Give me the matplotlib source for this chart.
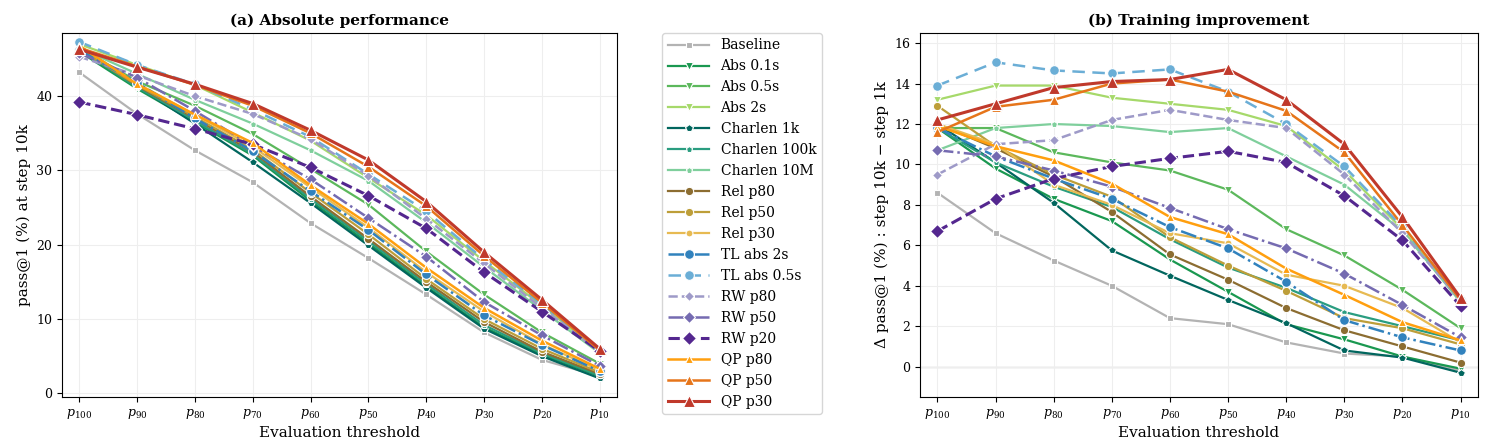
import matplotlib
matplotlib.use("Agg")
import matplotlib.pyplot as plt

plt.rcParams['font.family'] = ['DejaVu Serif']
plt.rcParams['mathtext.fontset'] = 'dejavuserif'

thresholds = [100, 90, 80, 70, 60, 50, 40, 30, 20, 10]
tick_labels = [f"$p_{{{t}}}$" for t in thresholds]

names = ["Baseline", "Abs 0.1s", "Abs 0.5s", "Abs 2s", "Charlen 1k", "Charlen 100k",
         "Charlen 10M", "Rel p80", "Rel p50", "Rel p30", "TL abs 2s", "TL abs 0.5s",
         "RW p80", "RW p50", "RW p20", "QP p80", "QP p50", "QP p30"]

abs_perf = {
    "Baseline":     [43.2, 37.6, 32.7, 28.4, 22.9, 18.2, 13.3, 8.2, 4.5, 2.3],
    "Abs 0.1s":     [46.0, 41.0, 36.5, 32.0, 25.9, 20.2, 14.4, 8.9, 5.2, 2.3],
    "Abs 0.5s":     [46.5, 42.0, 38.7, 34.9, 30.2, 25.4, 19.1, 13.3, 8.2, 4.0],
    "Abs 2s":       [47.0, 44.2, 41.5, 37.8, 34.0, 29.0, 24.0, 17.8, 11.8, 5.6],
    "Charlen 1k":   [46.4, 41.3, 36.3, 31.1, 25.6, 19.9, 14.2, 8.7, 5.0, 2.0],
    "Charlen 100k": [46.3, 41.2, 36.7, 32.2, 26.2, 20.5, 14.7, 9.2, 5.4, 2.4],
    "Charlen 10M":  [46.5, 43.0, 39.5, 36.3, 32.7, 28.6, 23.0, 17.0, 11.2, 5.4],
    "Rel p80":      [46.4, 41.4, 37.0, 32.5, 26.5, 20.8, 15.0, 9.6, 5.6, 2.6],
    "Rel p50":      [46.3, 41.5, 37.2, 32.8, 27.0, 21.4, 15.4, 10.0, 6.0, 2.8],
    "Rel p30":      [46.7, 41.7, 37.5, 33.2, 27.7, 22.3, 16.3, 11.0, 6.6, 3.1],
    "TL abs 2s":    [46.2, 41.8, 37.0, 32.6, 27.2, 22.0, 16.0, 10.5, 6.5, 3.0],
    "TL abs 0.5s":  [47.3, 44.2, 41.6, 38.2, 34.5, 29.5, 24.5, 18.0, 12.0, 5.8],
    "RW p80":       [45.3, 42.8, 40.0, 37.6, 34.2, 29.3, 23.5, 17.5, 11.5, 5.6],
    "RW p50":       [45.8, 42.5, 38.0, 33.3, 28.8, 23.6, 18.4, 12.3, 7.8, 3.7],
    "RW p20":       [39.2, 37.5, 35.6, 33.5, 30.4, 26.6, 22.2, 16.3, 11.0, 5.7],
    "QP p80":       [46.8, 41.6, 37.5, 33.7, 28.0, 22.8, 16.9, 11.5, 7.1, 3.3],
    "QP p50":       [46.5, 44.0, 41.5, 38.7, 35.0, 30.5, 25.2, 18.5, 12.2, 5.8],
    "QP p30":       [46.3, 43.9, 41.6, 39.0, 35.4, 31.4, 25.8, 19.0, 12.6, 6.0],
}

improvement = {
    "Baseline":     [8.6, 6.6, 5.25, 4.0, 2.4, 2.1, 1.2, 0.65, 0.5, -0.2],
    "Abs 0.1s":     [11.8, 9.8, 8.3, 7.2, 5.3, 3.7, 2.1, 1.35, 0.5, -0.1],
    "Abs 0.5s":     [11.8, 11.8, 10.6, 10.1, 9.7, 8.75, 6.8, 5.5, 3.8, 1.9],
    "Abs 2s":       [13.2, 13.9, 13.9, 13.3, 13.0, 12.7, 11.9, 9.7, 6.8, 3.2],
    "Charlen 1k":   [12.0, 10.1, 8.1, 5.75, 4.5, 3.3, 2.15, 0.8, 0.45, -0.3],
    "Charlen 100k": [11.8, 10.1, 8.9, 7.9, 6.3, 4.9, 3.9, 2.7, 2.0, 1.3],
    "Charlen 10M":  [10.7, 11.8, 12.0, 11.9, 11.6, 11.8, 10.4, 9.0, 6.7, 3.2],
    "Rel p80":      [12.0, 10.8, 9.4, 7.65, 5.55, 4.3, 2.9, 1.8, 1.0, 0.2],
    "Rel p50":      [12.9, 10.9, 9.5, 8.4, 6.4, 5.0, 3.75, 2.4, 1.9, 1.1],
    "Rel p30":      [12.0, 11.0, 9.0, 8.0, 6.6, 6.1, 4.55, 4.0, 2.9, 1.2],
    "TL abs 2s":    [11.8, 10.4, 9.3, 8.3, 6.9, 5.85, 4.2, 2.3, 1.45, 0.8],
    "TL abs 0.5s":  [13.9, 15.05, 14.65, 14.5, 14.7, 13.6, 12.0, 9.9, 6.9, 3.3],
    "RW p80":       [9.5, 11.0, 11.2, 12.2, 12.7, 12.2, 11.8, 9.5, 6.6, 3.3],
    "RW p50":       [10.7, 10.4, 9.7, 8.9, 7.85, 6.8, 5.85, 4.6, 3.05, 1.45],
    "RW p20":       [6.7, 8.3, 9.3, 9.9, 10.3, 10.65, 10.1, 8.45, 6.25, 3.0],
    "QP p80":       [11.9, 10.9, 10.2, 9.05, 7.4, 6.55, 4.85, 3.55, 2.2, 1.3],
    "QP p50":       [11.6, 12.85, 13.2, 14.0, 14.2, 13.6, 12.65, 10.6, 7.0, 3.3],
    "QP p30":       [12.2, 13.0, 13.8, 14.1, 14.2, 14.7, 13.2, 11.0, 7.4, 3.4],
}

styles = {
    "Baseline":     dict(color="#b3b3b3", marker="s", ls="-", ms=5, lw=1.6),
    "Abs 0.1s":     dict(color="#1a9850", marker="v", ls="-", ms=6, lw=1.6),
    "Abs 0.5s":     dict(color="#5cb85c", marker="v", ls="-", ms=6, lw=1.6),
    "Abs 2s":       dict(color="#a6d96a", marker="v", ls="-", ms=6, lw=1.6),
    "Charlen 1k":   dict(color="#01665e", marker="p", ls="-", ms=6, lw=1.6),
    "Charlen 100k": dict(color="#2a9d80", marker="p", ls="-", ms=5, lw=1.6),
    "Charlen 10M":  dict(color="#7fcf9c", marker="p", ls="-", ms=5, lw=1.6),
    "Rel p80":      dict(color="#8c6d31", marker="o", ls="-", ms=6, lw=1.6),
    "Rel p50":      dict(color="#bd9e39", marker="o", ls="-", ms=6, lw=1.6),
    "Rel p30":      dict(color="#e7ba52", marker="o", ls="-", ms=5, lw=1.6),
    "TL abs 2s":    dict(color="#3182bd", marker="o", ls="-.", ms=7, lw=1.8),
    "TL abs 0.5s":  dict(color="#6baed6", marker="o", ls=(0, (5, 3)), ms=7, lw=1.8),
    "RW p80":       dict(color="#9e9ac8", marker="D", ls="--", ms=5, lw=1.8),
    "RW p50":       dict(color="#756bb1", marker="D", ls="-.", ms=6, lw=1.8),
    "RW p20":       dict(color="#54278f", marker="D", ls="--", ms=7, lw=2.2),
    "QP p80":       dict(color="#ff9f0f", marker="^", ls="-", ms=6, lw=1.8),
    "QP p50":       dict(color="#e6751a", marker="^", ls="-", ms=7, lw=1.8),
    "QP p30":       dict(color="#c0392b", marker="^", ls="-", ms=8, lw=2.2),
}

fig = plt.figure(figsize=(14.86, 4.47), dpi=100)
ax1 = fig.add_axes([62/1486, 50/447, 555/1486, 364/447])
ax2 = fig.add_axes([920/1486, 50/447, 558/1486, 364/447])
x = list(range(len(thresholds)))

for ax, data in [(ax1, abs_perf), (ax2, improvement)]:
    for n in names:
        s = styles[n]
        ax.plot(x, data[n], color=s["color"], marker=s["marker"], linestyle=s["ls"],
                markersize=s["ms"], linewidth=s["lw"], markeredgecolor="white",
                markeredgewidth=0.8, label=n)
    ax.set_xticks(x)
    ax.set_xticklabels(tick_labels, fontsize=10)
    ax.grid(True, color="#eeeeee", linewidth=0.8)
    ax.set_axisbelow(True)
    ax.set_xlabel("Evaluation threshold", fontsize=11)
    ax.set_xlim(-0.3, 9.3)
    ax.tick_params(labelsize=9)

ax1.set_ylim(-0.5, 48.5)
ax1.set_yticks([0, 10, 20, 30, 40])
ax1.set_ylabel("pass@1 (%) at step 10k", fontsize=11)
ax1.set_title("(a) Absolute performance", fontsize=11, fontweight="bold")

ax2.set_ylim(-1.5, 16.5)
ax2.set_yticks(range(0, 17, 2))
ax2.axhline(0, color="#cccccc", linewidth=1, zorder=0)
ax2.set_ylabel("Δ pass@1 (%) : step 10k − step 1k", fontsize=11)
ax2.set_title("(b) Training improvement", fontsize=11, fontweight="bold")

h, l = ax1.get_legend_handles_labels()
fig.legend(h, l, loc="center", bbox_to_anchor=(742/1486, 0.5), fontsize=10,
           frameon=True, edgecolor="#cccccc", handlelength=3)

fig.savefig("out.png", dpi=100)
